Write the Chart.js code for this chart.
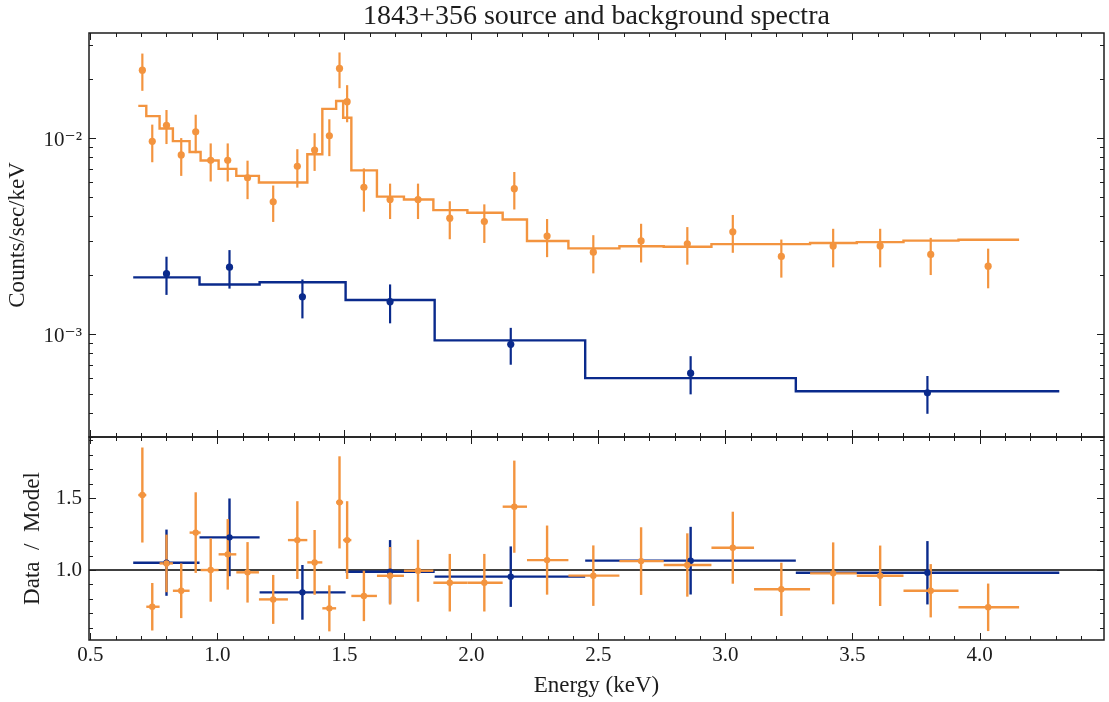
<!DOCTYPE html>
<html>
<head>
<meta charset="utf-8">
<script src="https://cdn.jsdelivr.net/npm/chart.js@4.4.1/dist/chart.umd.min.js"></script>
<style>
  html, body { margin: 0; padding: 0; background: #ffffff; }
  #wrap { position: relative; width: 1109px; height: 702px; overflow: hidden; background: #ffffff; }
  #spec { position: absolute; left: 0; top: 0; }
  #ratio { position: absolute; left: 0; top: 435px; }
</style>
</head>
<body>
<div id="wrap">
  <canvas id="spec" width="1109" height="440" style="width:1109px;height:440px"></canvas>
  <canvas id="ratio" width="1109" height="267" style="width:1109px;height:267px"></canvas>
</div>
<script>
// ---- Source spectrum (counts/sec/keV) ----
const srcEnergy = [0.705, 0.744, 0.800, 0.858, 0.915, 0.974, 1.041, 1.119, 1.220, 1.315,
                   1.383, 1.441, 1.481, 1.511, 1.577, 1.680, 1.790, 1.915, 2.051, 2.169,
                   2.298, 2.480, 2.668, 2.850, 3.029, 3.220, 3.424, 3.609, 3.808, 4.034];
const srcRate = [0.02229, 0.00966, 0.01166, 0.00824, 0.01081, 0.00773, 0.00773, 0.00630, 0.00475, 0.00721,
                 0.00873, 0.01032, 0.02274, 0.01539, 0.00563, 0.00488, 0.00488, 0.00392, 0.00377, 0.00554,
                 0.00318, 0.00263, 0.00300, 0.00290, 0.00334, 0.00250, 0.00283, 0.00283, 0.00256, 0.00223];
const srcRateErr = [0.0048, 0.0021, 0.0023, 0.0018, 0.0024, 0.0017, 0.0017, 0.0014, 0.0010, 0.0016,
                    0.0019, 0.0022, 0.0047, 0.0033, 0.0014, 0.0010, 0.0010, 0.00086, 0.00084, 0.0012,
                    0.0007, 0.00058, 0.00067, 0.00063, 0.00073, 0.00055, 0.00063, 0.00063, 0.00055, 0.00051];
const srcBinEdges = [0.689, 0.7205, 0.7728, 0.8252, 0.8909, 0.9343, 1.0051, 1.0748, 1.1638, 1.2780,
                     1.3543, 1.4134, 1.4677, 1.4953, 1.5276, 1.6283, 1.7346, 1.8504, 1.9843, 2.1232,
                     2.2189, 2.3819, 2.5827, 2.7571, 2.9449, 3.1126, 3.3331, 3.5169, 3.7008, 3.9173, 4.1559];
const srcModel = [0.01465, 0.01300, 0.01123, 0.00969, 0.00853, 0.00772, 0.00699, 0.00644, 0.00596, 0.00596,
                  0.00831, 0.01415, 0.01552, 0.01275, 0.00687, 0.00505, 0.00488, 0.00431, 0.00418, 0.00386,
                  0.00300, 0.00275, 0.00282, 0.00280, 0.00289, 0.00289, 0.00293, 0.00296, 0.00301, 0.00304];
const srcRatio = [1.521, 0.745, 1.046, 0.856, 1.260, 1.000, 1.109, 0.984, 0.796, 1.208,
                  1.053, 0.734, 1.470, 1.208, 0.820, 0.960, 0.995, 0.912, 0.912, 1.440,
                  1.069, 0.961, 1.062, 1.035, 1.155, 0.866, 0.977, 0.960, 0.856, 0.741];
const srcRatioErr = [0.33, 0.165, 0.20, 0.19, 0.28, 0.22, 0.245, 0.21, 0.17, 0.27,
                     0.225, 0.16, 0.32, 0.27, 0.175, 0.20, 0.215, 0.20, 0.20, 0.32,
                     0.24, 0.21, 0.235, 0.22, 0.25, 0.185, 0.215, 0.21, 0.185, 0.165];

// ---- Background spectrum ----
const bkgEnergy = [0.800, 1.048, 1.335, 1.680, 2.155, 2.863, 3.795];
const bkgRate = [0.002042, 0.002204, 0.001558, 0.001470, 0.000891, 0.000635, 0.000504];
const bkgRateErr = [0.00045, 0.00049, 0.00035, 0.00033, 0.00019, 0.00014, 0.00011];
const bkgBinEdges = [0.669, 0.930, 1.1665, 1.505, 1.8555, 2.448, 3.277, 4.314];
const bkgModel = [0.001956, 0.001798, 0.001846, 0.001499, 0.000933, 0.000599, 0.000513];
const bkgRatio = [1.051, 1.227, 0.845, 0.988, 0.954, 1.065, 0.981];
const bkgRatioErr = [0.23, 0.27, 0.19, 0.22, 0.21, 0.235, 0.22];

// ---- Axes ----
const xTickValues = [0.5, 1.0, 1.5, 2.0, 2.5, 3.0, 3.5, 4.0];
const xTickLabels = ['0.5', '1.0', '1.5', '2.0', '2.5', '3.0', '3.5', '4.0'];
const rateTickValues = [1e-3, 1e-2];
const rateTickLabels = ['10\u207B\u00B3', '10\u207B\u00B2'];
const ratioTickValues = [1.0, 1.5];
const ratioTickLabels = ['1.0', '1.5'];
const ratioReference = 1.0;

const X_MIN = 0.495, X_MAX = 4.49;
const RATE_MIN = 3.218e-4, RATE_MAX = 0.03449;
const RATIO_MIN = 0.514, RATIO_MAX = 1.924;

const ORANGE = '#f3943f';
const NAVY = '#0a2a8c';
const INK = '#1c1c1c';
const SERIF = "'Liberation Serif', 'DejaVu Serif', serif";

// histogram outline: one point per bin start plus the closing edge
function stepPoints(edges, levels) {
  const pts = levels.map((v, i) => ({ x: edges[i], y: v }));
  pts.push({ x: edges[edges.length - 1], y: levels[levels.length - 1] });
  return pts;
}
function points(xs, ys) { return xs.map((x, i) => ({ x, y: ys[i] })); }

// keep the plot frames flush with the canvas edges chosen below
function fixWidth(w) {
  return (s) => { s.width = w; s.paddingTop = 0; s.paddingBottom = 0; };
}
function fixHeight(h) {
  return (s) => { s.height = h; s.paddingLeft = 0; s.paddingRight = 0; };
}

// vertical / horizontal error bars, plus the unity line of the ratio panel
const errorBars = {
  id: 'errorBars',
  beforeDatasetsDraw(chart, args, opts) {
    const ctx = chart.ctx, xs = chart.scales.x, ys = chart.scales.y;
    const area = chart.chartArea;
    ctx.save();
    ctx.beginPath();
    ctx.rect(area.left, area.top, area.right - area.left, area.bottom - area.top);
    ctx.clip();
    if (opts.refLine !== undefined) {
      const py = ys.getPixelForValue(opts.refLine);
      ctx.strokeStyle = '#000';
      ctx.lineWidth = 1.5;
      ctx.beginPath();
      ctx.moveTo(area.left, py);
      ctx.lineTo(area.right, py);
      ctx.stroke();
    }
    chart.data.datasets.forEach((ds) => {
      const eb = ds.errorBars;
      if (!eb) return;
      ctx.strokeStyle = ds.backgroundColor;
      ctx.lineWidth = eb.width;
      ctx.lineCap = 'butt';
      ds.data.forEach((p, j) => {
        const px = xs.getPixelForValue(p.x);
        const py = ys.getPixelForValue(p.y);
        if (eb.yErr) {
          ctx.beginPath();
          ctx.moveTo(px, ys.getPixelForValue(p.y - eb.yErr[j]));
          ctx.lineTo(px, ys.getPixelForValue(p.y + eb.yErr[j]));
          ctx.stroke();
        }
        if (eb.xEdges) {
          ctx.beginPath();
          ctx.moveTo(xs.getPixelForValue(eb.xEdges[j]), py);
          ctx.lineTo(xs.getPixelForValue(eb.xEdges[j + 1]), py);
          ctx.stroke();
        }
      });
    });
    ctx.restore();
  }
};

// frame with inward ticks on all four sides
const frameTicks = {
  id: 'frameTicks',
  afterDraw(chart, args, opts) {
    const ctx = chart.ctx, xs = chart.scales.x, ys = chart.scales.y;
    const a = chart.chartArea;
    ctx.save();
    ctx.strokeStyle = INK;
    ctx.lineWidth = 1;
    const MAJ = 7, MIN = 4;
    // x ticks, every 0.1 keV
    for (let k = 5; k <= 44; k++) {
      const v = k / 10;
      const px = Math.round(xs.getPixelForValue(v)) + 0.5;
      const len = (k % 5 === 0) ? MAJ : MIN;
      ctx.beginPath();
      ctx.moveTo(px, a.bottom); ctx.lineTo(px, a.bottom - len);
      ctx.moveTo(px, a.top); ctx.lineTo(px, a.top + len);
      ctx.stroke();
    }
    // y ticks
    const yTicks = [];
    if (opts.kind === 'log') {
      for (let e = -4; e <= -1; e++) {
        for (let m = 1; m <= 9; m++) {
          const v = m * Math.pow(10, e);
          if (v >= ys.min && v <= ys.max) yTicks.push({ v, major: m === 1 });
        }
      }
    } else {
      for (let k = 6; k <= 19; k++) yTicks.push({ v: k / 10, major: k % 5 === 0 });
    }
    yTicks.forEach(t => {
      const py = Math.round(ys.getPixelForValue(t.v)) + 0.5;
      const len = t.major ? MAJ : MIN;
      ctx.beginPath();
      ctx.moveTo(a.left, py); ctx.lineTo(a.left + len, py);
      ctx.moveTo(a.right, py); ctx.lineTo(a.right - len, py);
      ctx.stroke();
    });
    ctx.lineWidth = 1.5;
    ctx.strokeRect(a.left, a.top, a.right - a.left, a.bottom - a.top);
    ctx.restore();
  }
};

const baseFont = { family: SERIF, size: 21 };

// ---- Upper panel: spectra with folded models ----
new Chart(document.getElementById('spec'), {
  type: 'scatter',
  data: {
    datasets: [
      {
        type: 'line', label: 'background model', data: stepPoints(bkgBinEdges, bkgModel),
        stepped: 'before', borderColor: NAVY, borderWidth: 2.4, pointRadius: 0, fill: false, order: 3
      },
      {
        label: 'background', data: points(bkgEnergy, bkgRate), backgroundColor: NAVY,
        pointRadius: 3.6, pointBorderWidth: 0, order: 2,
        errorBars: { yErr: bkgRateErr, width: 2.2 }
      },
      {
        type: 'line', label: 'source model', data: stepPoints(srcBinEdges, srcModel),
        stepped: 'before', borderColor: ORANGE, borderWidth: 2.4, pointRadius: 0, fill: false, order: 1
      },
      {
        label: 'source', data: points(srcEnergy, srcRate), backgroundColor: ORANGE,
        pointRadius: 3.6, pointBorderWidth: 0, order: 0,
        errorBars: { yErr: srcRateErr, width: 2.2 }
      }
    ]
  },
  options: {
    responsive: false,
    animation: false,
    layout: { autoPadding: false, padding: { left: 0, right: 5, top: 0, bottom: 3 } },
    plugins: {
      legend: { display: false },
      tooltip: { enabled: false },
      title: {
        display: true, fullSize: false,
        text: '1843+356 source and background spectra',
        color: INK,
        font: { family: SERIF, size: 28, weight: 'normal', lineHeight: 1 },
        padding: { top: 3, bottom: 2 }
      },
      errorBars: {},
      frameTicks: { kind: 'log' }
    },
    scales: {
      x: { type: 'linear', min: X_MIN, max: X_MAX, display: false },
      y: {
        type: 'logarithmic', min: RATE_MIN, max: RATE_MAX,
        afterFit: fixWidth(89),
        afterBuildTicks(s) { s.ticks = rateTickValues.map(v => ({ value: v, major: true })); },
        grid: { display: false, drawTicks: false },
        border: { display: false },
        ticks: {
          autoSkip: false, padding: 7, labelOffset: 2, color: INK, font: baseFont,
          callback: (v) => { const i = rateTickValues.indexOf(v); return i >= 0 ? rateTickLabels[i] : ''; }
        },
        title: {
          display: true, text: 'Counts/sec/keV', color: INK,
          font: { family: SERIF, size: 23 }, padding: { top: 4, bottom: 0 }
        }
      }
    }
  },
  plugins: [errorBars, frameTicks]
});

// ---- Lower panel: data / model ----
new Chart(document.getElementById('ratio'), {
  type: 'scatter',
  data: {
    datasets: [
      {
        label: 'background ratio', data: points(bkgEnergy, bkgRatio), backgroundColor: NAVY,
        pointRadius: 3.2, pointBorderWidth: 0, order: 1,
        errorBars: { yErr: bkgRatioErr, xEdges: bkgBinEdges, width: 2.4 }
      },
      {
        label: 'source ratio', data: points(srcEnergy, srcRatio), backgroundColor: ORANGE,
        pointRadius: 3.2, pointBorderWidth: 0, order: 0,
        errorBars: { yErr: srcRatioErr, xEdges: srcBinEdges, width: 2.4 }
      }
    ]
  },
  options: {
    responsive: false,
    animation: false,
    layout: { autoPadding: false, padding: { left: 0, right: 5, top: 2, bottom: 0 } },
    plugins: {
      legend: { display: false },
      tooltip: { enabled: false },
      errorBars: { refLine: ratioReference },
      frameTicks: { kind: 'linear' }
    },
    scales: {
      x: {
        type: 'linear', min: X_MIN, max: X_MAX,
        afterFit: fixHeight(62),
        afterBuildTicks(s) { s.ticks = xTickValues.map(v => ({ value: v })); },
        grid: { display: false, drawTicks: false },
        border: { display: false },
        ticks: {
          autoSkip: false, maxRotation: 0, padding: 3, color: INK, font: baseFont,
          callback: (v) => { const i = xTickValues.indexOf(v); return i >= 0 ? xTickLabels[i] : ''; }
        },
        title: {
          display: true, text: 'Energy (keV)', color: INK,
          font: { family: SERIF, size: 23 }, padding: { top: 0, bottom: 2 }
        }
      },
      y: {
        type: 'linear', min: RATIO_MIN, max: RATIO_MAX,
        afterFit: fixWidth(89),
        afterBuildTicks(s) { s.ticks = ratioTickValues.map(v => ({ value: v })); },
        grid: { display: false, drawTicks: false },
        border: { display: false },
        ticks: {
          autoSkip: false, padding: 7, color: INK, font: baseFont,
          callback: (v) => { const i = ratioTickValues.indexOf(v); return i >= 0 ? ratioTickLabels[i] : ''; }
        },
        title: {
          display: true, text: 'Data  /  Model', color: INK,
          font: { family: SERIF, size: 23 }, padding: { top: 19, bottom: 0 }
        }
      }
    }
  },
  plugins: [errorBars, frameTicks]
});
</script>
</body>
</html>
